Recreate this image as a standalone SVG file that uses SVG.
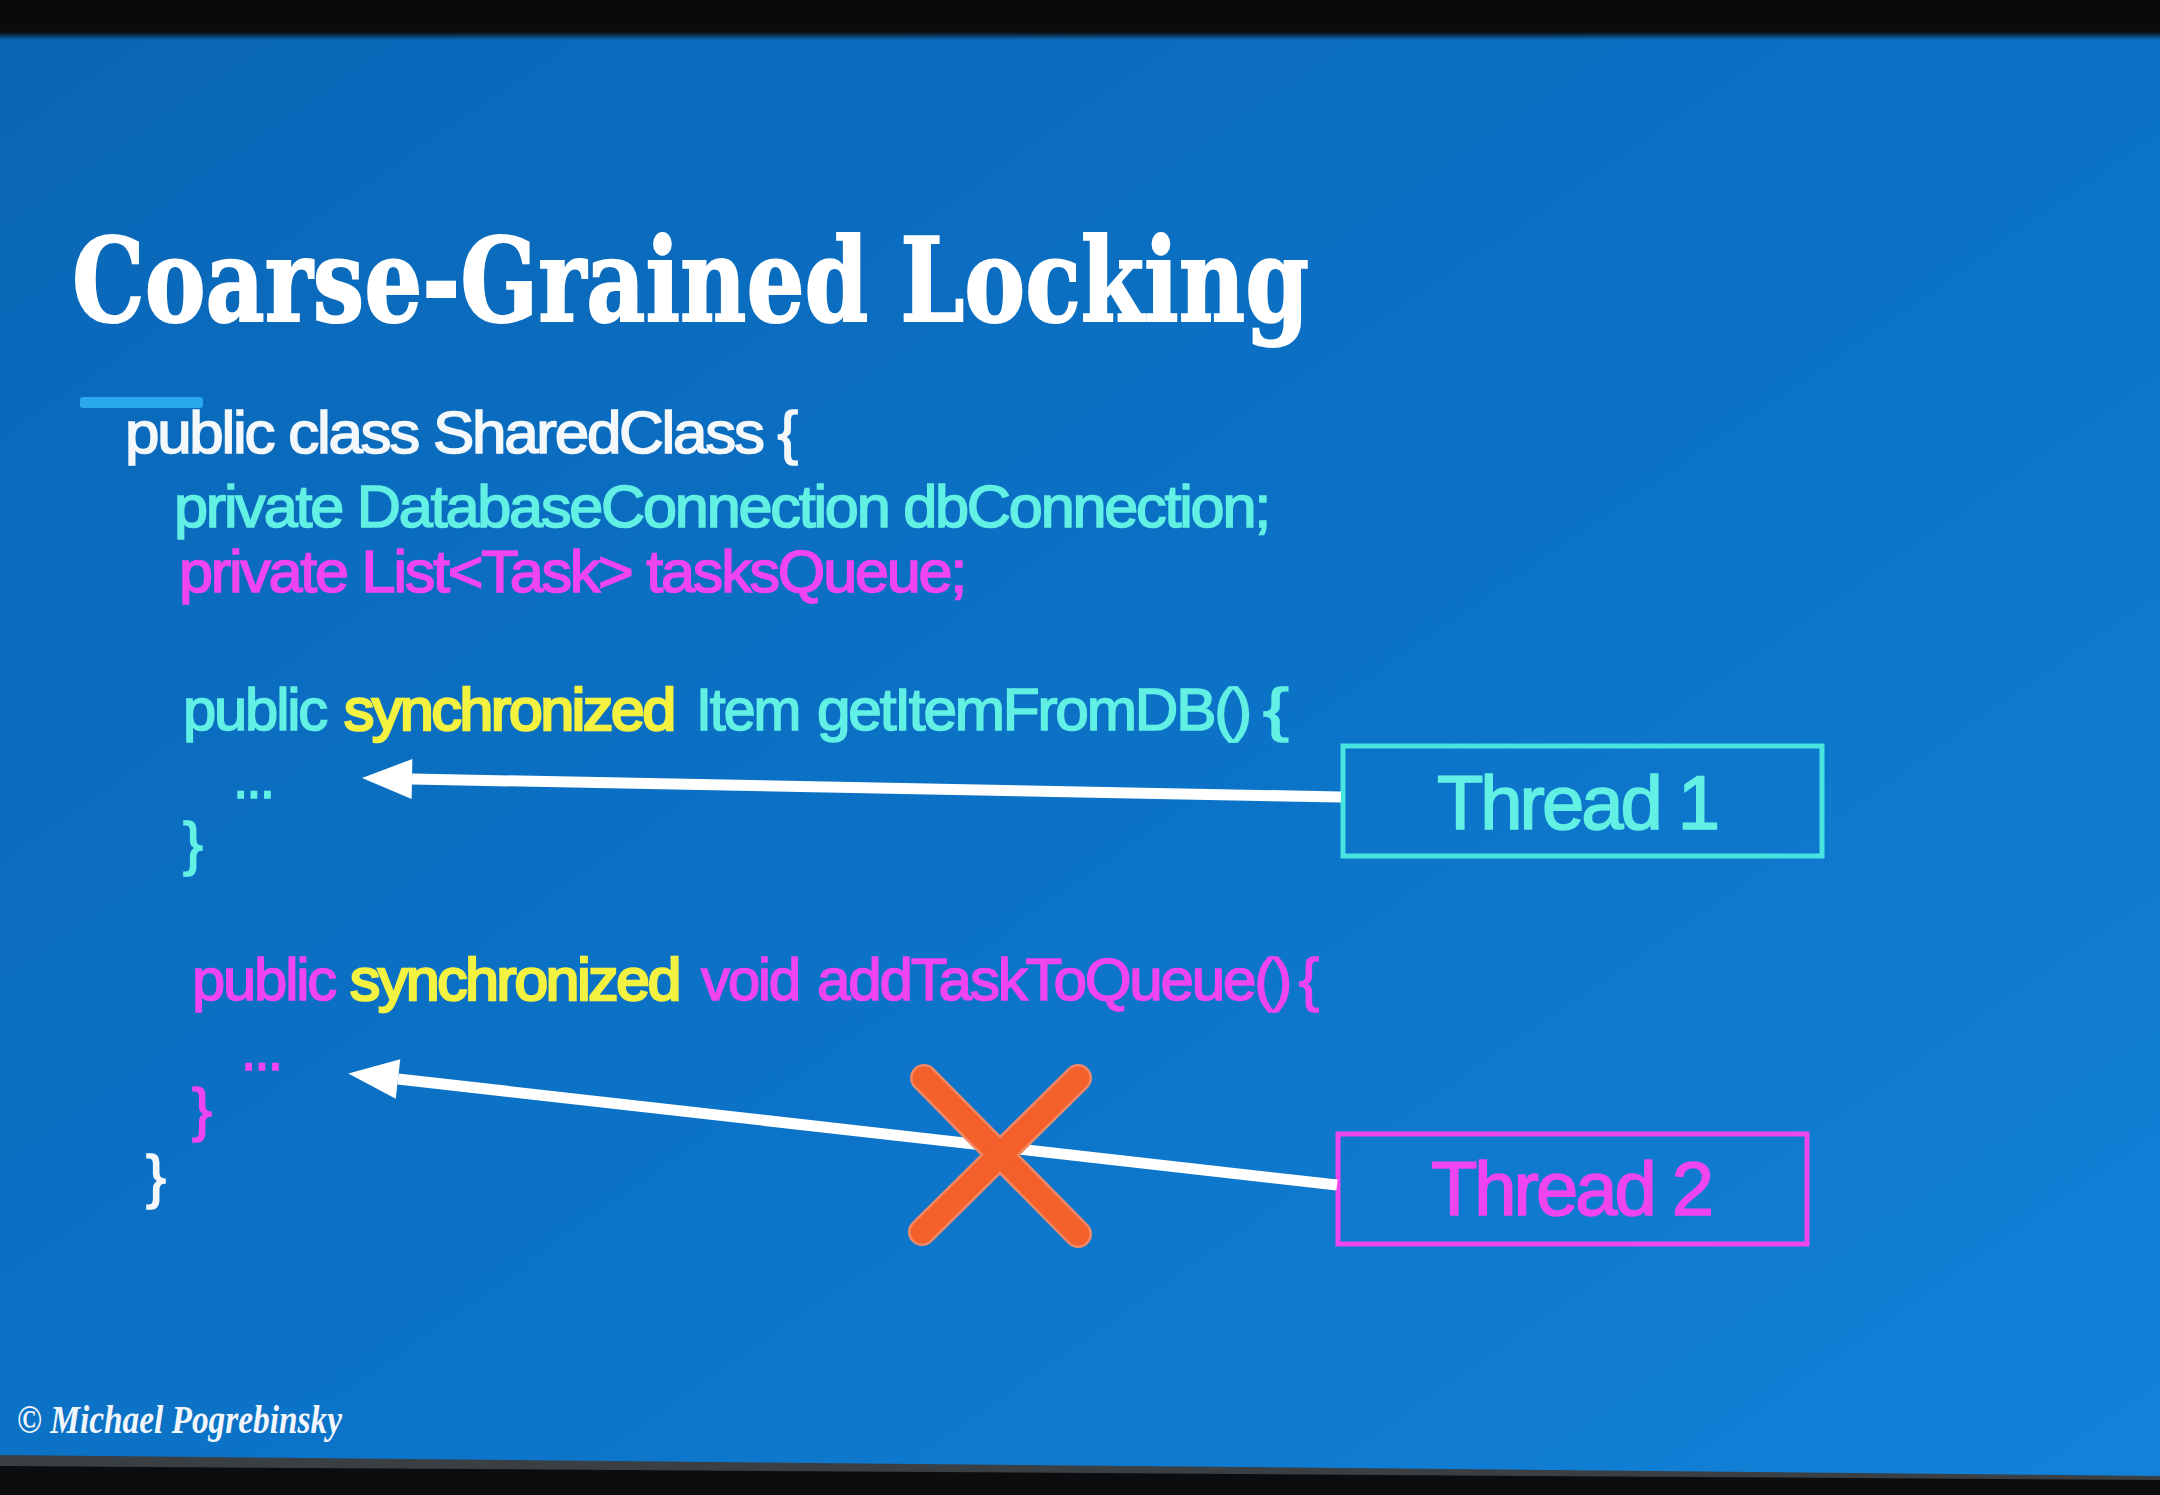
<svg xmlns="http://www.w3.org/2000/svg" width="2160" height="1495" viewBox="0 0 2160 1495">
  <defs>
    <linearGradient id="bg" x1="0" y1="0" x2="1" y2="1">
      <stop offset="0" stop-color="#0a66b6"/>
      <stop offset="0.5" stop-color="#0b72c6"/>
      <stop offset="1" stop-color="#1282d8"/>
    </linearGradient>
    <linearGradient id="topShade" x1="0" y1="0" x2="0" y2="1">
      <stop offset="0" stop-color="#080a0a"/>
      <stop offset="0.8" stop-color="#0a0c0c"/>
      <stop offset="1" stop-color="#0a0c0c" stop-opacity="0"/>
    </linearGradient>
    <marker id="head" markerUnits="userSpaceOnUse" markerWidth="60" markerHeight="50" refX="0" refY="0" viewBox="0 -25 60 50" orient="auto" overflow="visible">
      <path d="M0,-20 L50,0 L0,20 Z" fill="#ffffff"/>
    </marker>
    <style>
      .title { font-family: "DejaVu Serif", "Liberation Serif", serif; font-weight: bold; fill: #ffffff; stroke: #ffffff; stroke-width: 2; }
      .code { font-family: "Liberation Sans", Arial, sans-serif; font-size: 60px; letter-spacing: -2.2px; stroke-width: 1.6; }
      .white { fill: #f4f8fb; stroke: #f4f8fb; }
      .cyan { fill: #62f0e4; stroke: #62f0e4; }
      .magenta { fill: #ef45ee; stroke: #ef45ee; }
      .yellow { fill: #f4f240; stroke: #f4f240; stroke-width: 2.6; }
      .box { fill: none; stroke-width: 5; }
      .label { font-family: "Liberation Sans", Arial, sans-serif; font-size: 76px; letter-spacing: -3px; stroke-width: 1.6; text-anchor: middle; }
      .arrow { stroke: #ffffff; stroke-width: 11; fill: none; }
      .credit { font-family: "Liberation Serif", serif; font-style: italic; font-weight: bold; font-size: 40px; fill: #f2f6fa; }
    </style>
  </defs>

  <!-- screen background -->
  <rect x="0" y="0" width="2160" height="1495" fill="url(#bg)"/>
  <rect x="0" y="0" width="2160" height="40" fill="url(#topShade)"/>
  <polygon points="0,1455 2160,1476 2160,1495 0,1495" fill="#3a3f44"/>
  <polygon points="0,1466 2160,1480 2160,1495 0,1495" fill="#0b0d0e"/>

  <!-- heading -->
  <g id="title">
    <text class="title" x="72" y="321" font-size="116" textLength="1237" lengthAdjust="spacingAndGlyphs">Coarse-Grained Locking</text>
    <rect x="80" y="397" width="123" height="11" rx="3" fill="#29a8ec"/>
  </g>

  <!-- class listing -->
  <g id="code" class="code">
    <text class="white" x="125" y="453" textLength="671" lengthAdjust="spacingAndGlyphs">public class SharedClass {</text>
    <text class="cyan" x="174" y="527" textLength="1095" lengthAdjust="spacingAndGlyphs">private DatabaseConnection dbConnection;</text>
    <text class="magenta" x="179" y="592" textLength="786" lengthAdjust="spacingAndGlyphs">private List&lt;Task&gt; tasksQueue;</text>

    <text class="cyan" x="183" y="730" textLength="143" lengthAdjust="spacingAndGlyphs">public</text>
    <text class="yellow" x="344" y="730" textLength="330" lengthAdjust="spacingAndGlyphs">synchronized</text>
    <text class="cyan" x="696" y="730" textLength="103" lengthAdjust="spacingAndGlyphs">Item</text>
    <text class="cyan" x="817" y="730" textLength="433" lengthAdjust="spacingAndGlyphs">getItemFromDB()</text>
    <text class="cyan" x="1263" y="730" textLength="23" lengthAdjust="spacingAndGlyphs">{</text>
    <text class="cyan" x="233" y="798" textLength="40" lengthAdjust="spacingAndGlyphs">...</text>
    <text class="cyan" x="183" y="864">}</text>

    <text class="magenta" x="192" y="1000" textLength="143" lengthAdjust="spacingAndGlyphs">public</text>
    <text class="yellow" x="350" y="1000" textLength="329" lengthAdjust="spacingAndGlyphs">synchronized</text>
    <text class="magenta" x="701" y="1000" textLength="98" lengthAdjust="spacingAndGlyphs">void</text>
    <text class="magenta" x="817" y="1000" textLength="473" lengthAdjust="spacingAndGlyphs">addTaskToQueue()</text>
    <text class="magenta" x="1299" y="1000" textLength="18" lengthAdjust="spacingAndGlyphs">{</text>
    <text class="magenta" x="241" y="1070" textLength="40" lengthAdjust="spacingAndGlyphs">...</text>
    <text class="magenta" x="192" y="1130">}</text>
    <text class="white" x="146" y="1197">}</text>
  </g>

  <!-- thread boxes -->
  <g id="thread-1">
    <rect class="box" x="1343" y="746" width="479" height="110" stroke="#46e6df"/>
    <text class="label cyan" x="1577" y="829">Thread 1</text>
  </g>
  <g id="thread-2">
    <rect class="box" x="1338" y="1134" width="469" height="110" stroke="#ee45ec"/>
    <text class="label magenta" x="1571" y="1215">Thread 2</text>
  </g>

  <!-- calls from threads into the synchronized methods -->
  <g id="connectors">
    <line class="arrow" x1="1341" y1="797" x2="412" y2="779" marker-end="url(#head)"/>
    <line class="arrow" x1="1337" y1="1185" x2="398" y2="1079" marker-end="url(#head)"/>
  </g>

  <!-- blocked call -->
  <g id="blocked" stroke-linecap="round">
    <line x1="924" y1="1078" x2="1078" y2="1234" stroke="#f08868" stroke-width="28"/>
    <line x1="1078" y1="1078" x2="922" y2="1232" stroke="#f08868" stroke-width="28"/>
    <line x1="924" y1="1078" x2="1078" y2="1234" stroke="#f4602a" stroke-width="23"/>
    <line x1="1078" y1="1078" x2="922" y2="1232" stroke="#f4602a" stroke-width="23"/>
  </g>

  <!-- author credit -->
  <text class="credit" x="17" y="1433" textLength="325" lengthAdjust="spacingAndGlyphs">© Michael Pogrebinsky</text>
</svg>
